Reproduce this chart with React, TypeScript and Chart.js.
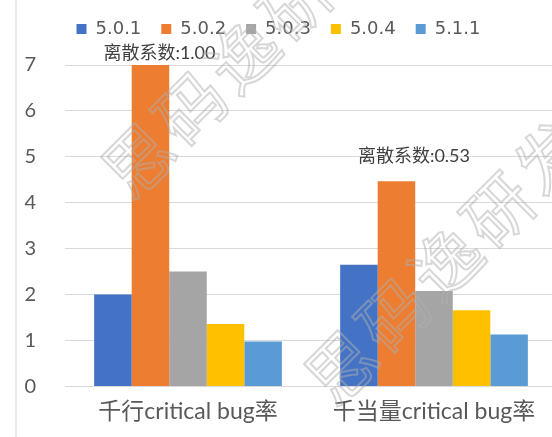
import React, { useEffect, useRef } from "react";
import { Chart, registerables } from "chart.js";

Chart.register(...registerables);

const categories = ["千行critical bug率", "千当量critical bug率"];
const seriesNames = ["5.0.1", "5.0.2", "5.0.3", "5.0.4", "5.1.1"];
const v501 = [2.0, 2.65];
const v502 = [7.0, 4.47];
const v503 = [2.5, 2.08];
const v504 = [1.36, 1.66];
const v511 = [0.98, 1.13];
const annotationTexts = ["离散系数:1.00", "离散系数:0.53"];
const yTicks = [0, 1, 2, 3, 4, 5, 6, 7];
const watermarkText = "思码逸研发";

const colors = ["#4472C4", "#ED7D31", "#A5A5A5", "#FFC000", "#5B9BD5"];
const FONT = 'Lato, "Noto Sans CJK SC", sans-serif';

const legendMargin = {
  id: "legendMargin",
  beforeInit(chart: any) {
    const orig = chart.legend.fit;
    chart.legend.fit = function () {
      orig.bind(chart.legend)();
      this.height += 17;
    };
  },
};

const pageEdge = {
  id: "pageEdge",
  beforeDraw(chart: any) {
    const ctx = chart.ctx;
    ctx.save();
    ctx.strokeStyle = "#E4E4E4";
    ctx.lineWidth = 1.5;
    ctx.beginPath();
    ctx.moveTo(16, 0);
    ctx.lineTo(16, chart.height);
    ctx.stroke();
    ctx.restore();
  },
};

const annotationPlugin = {
  id: "dispersionLabels",
  afterDatasetsDraw(chart: any, _args: any, opts: any) {
    const meta = chart.getDatasetMeta(1);
    const ctx = chart.ctx;
    ctx.save();
    ctx.font = `18px ${FONT}`;
    ctx.fillStyle = "#404040";
    ctx.textAlign = "center";
    ctx.textBaseline = "middle";
    meta.data.forEach((bar: any, i: number) => {
      const off = opts.offsets[i];
      ctx.fillText(annotationTexts[i], bar.x + off[0], bar.y - off[1]);
    });
    ctx.restore();
  },
};

const watermarkPlugin = {
  id: "watermark",
  afterDraw(chart: any, _args: any, opts: any) {
    const ctx = chart.ctx;
    ctx.save();
    ctx.font = `68px "Noto Sans CJK SC", sans-serif`;
    ctx.strokeStyle = "rgba(175,175,175,0.5)";
    ctx.lineWidth = 2;
    ctx.textAlign = "center";
    ctx.textBaseline = "middle";
    opts.origins.forEach((o: number[]) => {
      ctx.save();
      ctx.translate(o[0], o[1]);
      ctx.rotate(-Math.PI / 4);
      for (let k = 0; k < watermarkText.length; k++) {
        ctx.strokeText(watermarkText[k], k * 74, 0);
      }
      ctx.restore();
    });
    ctx.restore();
  },
};

export default function App() {
  const ref = useRef<HTMLCanvasElement>(null);
  useEffect(() => {
    if (!ref.current) return;
    const series = [v501, v502, v503, v504, v511];
    const chart = new Chart(ref.current, {
      type: "bar",
      data: {
        labels: categories,
        datasets: series.map((d, i) => ({
          label: seriesNames[i],
          data: d,
          backgroundColor: colors[i],
          borderWidth: 0,
          categoryPercentage: 0.763,
          barPercentage: 1.0,
        })),
      },
      options: {
        responsive: false,
        animation: false,
        devicePixelRatio: 1,
        layout: { padding: { left: 0, right: 0, top: 0, bottom: 4 } },
        plugins: {
          legend: {
            position: "top",
            labels: {
              boxWidth: 10,
              boxHeight: 10,
              padding: 20,
              color: "#595959",
              font: { size: 18, family: '"DejaVu Sans", sans-serif' },
            },
          },
          tooltip: { enabled: false },
          dispersionLabels: { offsets: [[9, 12], [17.5, 25]] },
          watermark: { origins: [[138, 160], [341, 367]] },
        } as any,
        scales: {
          x: {
            grid: { display: false, drawTicks: false },
            border: { display: false },
            afterFit: (scale: any) => {
              scale.paddingLeft = 0;
              scale.paddingRight = 0;
            },
            ticks: {
              color: "#595959",
              padding: 11,
              font: { size: 23, family: FONT },
            },
          },
          y: {
            min: 0,
            max: 7,
            afterBuildTicks: (axis: any) => {
              axis.ticks = yTicks.map((v) => ({ value: v }));
            },
            afterFit: (scale: any) => {
              scale.width = 65;
            },
            grid: { color: "#D9D9D9", drawTicks: false },
            border: { display: false },
            ticks: {
              color: "#595959",
              padding: 29,
              font: { size: 20, family: FONT },
            },
          },
        },
      },
      plugins: [pageEdge, legendMargin, annotationPlugin, watermarkPlugin],
    });
    return () => chart.destroy();
  }, []);
  return (
    <div
      style={{
        position: "absolute",
        left: 0,
        top: 0,
        width: 552,
        height: 437,
        overflow: "hidden",
        background: "#fff",
      }}
    >
      <canvas ref={ref} width={557} height={440} style={{ display: "block" }} />
    </div>
  );
}
